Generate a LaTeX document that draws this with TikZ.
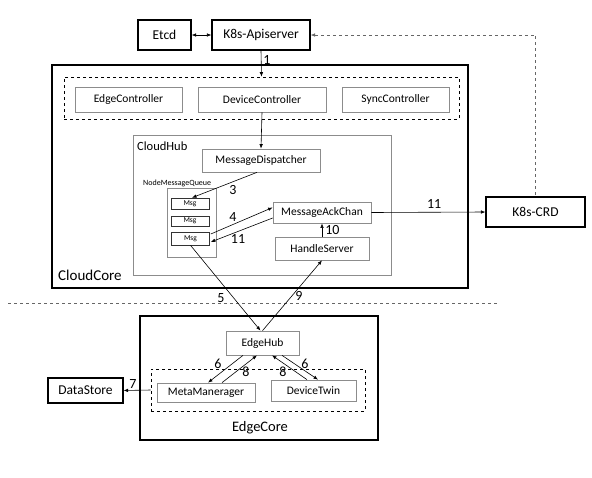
\documentclass[tikz,border=0pt]{standalone}
\usepackage{fontspec}
\setmainfont{Carlito}
\usepackage{xcolor}
\usetikzlibrary{arrows.meta}
\definecolor{boxgray}{HTML}{8C8C8C}

\begin{document}
\begin{tikzpicture}[x=1pt, y=-1pt, >={Latex[length=4.5pt,width=3.5pt]},
    mainbox/.style={rectangle, draw=black, line width=1.1pt, inner sep=0pt, font=\fontsize{13.5}{15}\selectfont},
    subbox/.style={rectangle, draw=boxgray, line width=0.7pt, inner sep=0pt, font=\fontsize{11.5}{13}\selectfont},
    groupbox/.style={rectangle, draw=black, dashed, line width=0.6pt, inner sep=0pt},
    msgbox/.style={rectangle, draw=black!80, line width=0.6pt, inner sep=0pt, minimum width=38, font=\fontsize{7.5}{8}\selectfont},
    flow/.style={->, line width=0.6pt},
    num/.style={font=\fontsize{14}{15}\selectfont, inner sep=0pt}]
    \useasboundingbox (0,0) rectangle (592,477);
    \node[mainbox, minimum width=53, minimum height=30] (etcd) at (164.5,35) {Etcd};
    \node[mainbox, minimum width=98, minimum height=30] (api) at (261,35) {K8s-Apiserver};
    \node[mainbox, minimum width=99, minimum height=30] (crd) at (535.5,212) {K8s-CRD};
    \node[mainbox, minimum width=416, minimum height=223] (cloudcore) at (260,176.5) {};
    \node[groupbox, minimum width=395, minimum height=42] (ctrlbox) at (261.5,98) {};
    \node[subbox, minimum width=107, minimum height=25] (edgectl) at (128.5,99.5) {EdgeController};
    \node[subbox, minimum width=128, minimum height=25] (devctl) at (262,99.5) {DeviceController};
    \node[subbox, minimum width=107, minimum height=25] (syncctl) at (395.5,99.5) {SyncController};
    \node[subbox, minimum width=258, minimum height=140] (cloudhub) at (262,205) {};
    \node[subbox, minimum width=118, minimum height=23] (dispatcher) at (261,160.5) {MessageDispatcher};
    \node[subbox, minimum width=49, minimum height=69] (queue) at (191.5,222.5) {};
    \node[msgbox, minimum height=11] (msga) at (190,203.5) {Msg};
    \node[msgbox, minimum height=10] (msgb) at (190,221) {Msg};
    \node[msgbox, minimum height=13] (msgc) at (190.5,238.5) {Msg};
    \node[subbox, minimum width=98, minimum height=21] (ackchan) at (322,212.5) {MessageAckChan};
    \node[subbox, minimum width=94, minimum height=23] (handle) at (322,248.5) {HandleServer};
    \node[mainbox, minimum width=238, minimum height=124] (edgecore) at (259,378) {};
    \node[subbox, minimum width=73, minimum height=24] (edgehub) at (262.5,343) {EdgeHub};
    \node[groupbox, minimum width=214, minimum height=42] (modbox) at (258,390) {};
    \node[subbox, minimum width=98, minimum height=19] (meta) at (206,392.5) {MetaManerager};
    \node[subbox, minimum width=85, minimum height=21] (twin) at (313.5,390.5) {DeviceTwin};
    \node[mainbox, minimum width=75, minimum height=25] (datastore) at (85.5,390.5) {DataStore};

    \node[anchor=west, inner sep=0pt, font=\fontsize{12.5}{14}\selectfont] (hublabel) at (137,146) {CloudHub};
    \node[anchor=west, inner sep=0pt, font=\fontsize{8}{9}\selectfont] (queuelabel) at (143,183) {NodeMessageQueue};
    \node[anchor=west, inner sep=0pt, font=\fontsize{15}{16}\selectfont] (cclabel) at (58,275) {CloudCore};
    \node[inner sep=0pt, font=\fontsize{14.5}{16}\selectfont] (eclabel) at (260,428) {EdgeCore};

    \coordinate (splitl) at (8,303);
    \coordinate (splitr) at (498,303);
    \draw[dashed, line width=0.6pt, black!60] (splitl) -- (splitr);

    \draw[<->, line width=0.6pt] (etcd) -- (api);
    \draw[<-, dashed, line width=0.6pt, black!60] (api.east) -| (crd.north);
    \draw[flow] (api.south) -- (ctrlbox.north) node[num, pos=0.35, right=2pt] {1};
    \draw[flow] (devctl.south) -- (dispatcher.north);
    \draw[flow] ([xshift=-4]dispatcher.south) -- ([xshift=2]msga.north);
    \node[num] (n3) at (233,190) {3};
    \draw[flow] ([xshift=1,yshift=4.5]msgc.east) -- ([yshift=5]ackchan.west);
    \node[num] (n4) at (233,217) {4};
    \draw[flow] ([yshift=-5.5]ackchan.west) -- ([xshift=1,yshift=-3.5]msgc.east);
    \node[num] (n11a) at (238,239) {11};
    \draw[flow] (handle.north) -- (ackchan.south) node[num, midway, right=3pt] {10};
    \draw[flow] (ackchan.east) -- (crd.west) node[num, pos=0.55, above=3pt] {11};
    \draw[flow] (msgc.south) -- ([xshift=-2]edgehub.north);
    \node[num] (n5) at (221,298) {5};
    \draw[flow] (edgehub.north) -- (handle.south);
    \node[num] (n9) at (299,296) {9};
    \draw[flow] ([xshift=-19.5]edgehub.south) -- ([xshift=2]meta.north);
    \draw[flow] ([xshift=16]meta.north) -- ([xshift=-5.5]edgehub.south);
    \draw[flow] ([xshift=-6.5]twin.north) -- ([xshift=9.5]edgehub.south);
    \draw[flow] ([xshift=19.5]edgehub.south) -- ([xshift=4.5]twin.north);
    \node[num] (n6a) at (218,364) {6};
    \node[num] (n8a) at (246,372) {8};
    \node[num] (n8b) at (283,372) {8};
    \node[num] (n6b) at (305,364) {6};
    \draw[flow] (modbox.west) -- (datastore.east);
    \node[num] (n7) at (133,384) {7};
\end{tikzpicture}
\end{document}
